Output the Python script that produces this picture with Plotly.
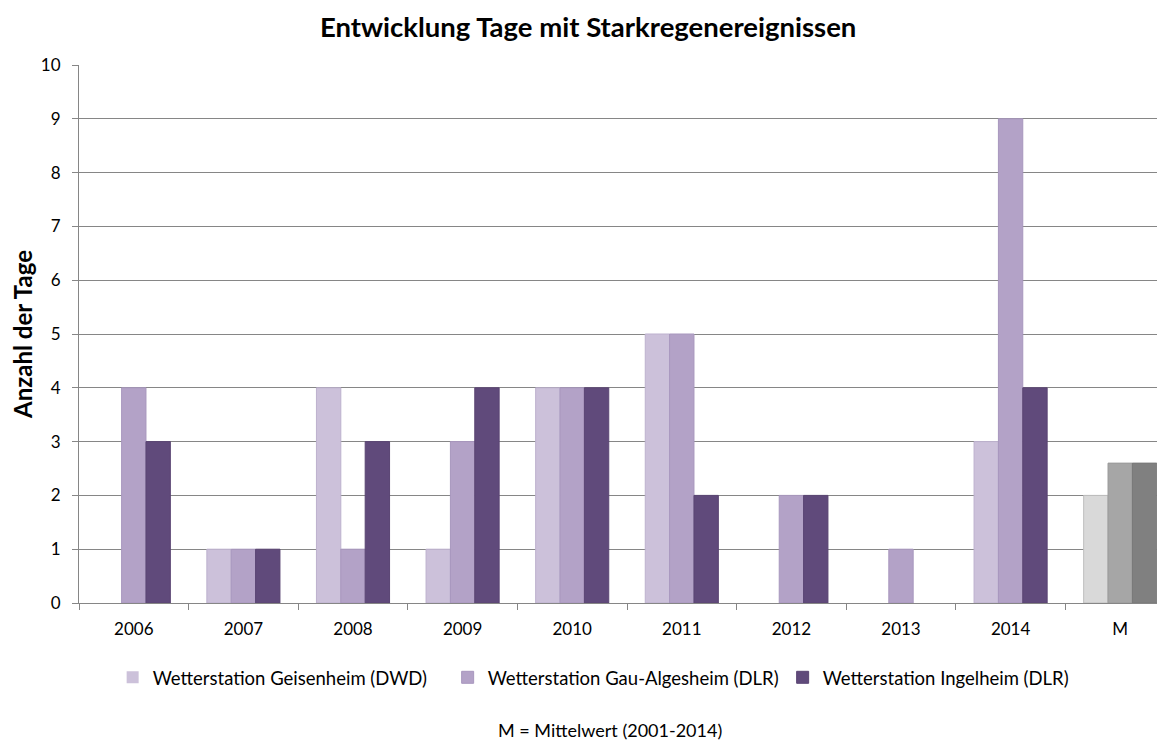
import plotly.graph_objects as go

categories = ["2006", "2007", "2008", "2009", "2010", "2011", "2012", "2013", "2014", "M"]
geisenheim = [0, 1, 4, 1, 4, 5, 0, 0, 3, 2.0]
gau_algesheim = [4, 1, 1, 3, 4, 5, 2, 1, 9, 2.6]
ingelheim = [3, 1, 3, 4, 4, 2, 2, 0, 4, 2.6]

series = [
    ("Wetterstation Geisenheim (DWD)", geisenheim, "#CCC1DA", "#D9D9D9", "#BDB1CE", "#BFBFBF"),
    ("Wetterstation Gau-Algesheim (DLR)", gau_algesheim, "#B3A2C7", "#A6A6A6", "#A897BE", "#9A9A9A"),
    ("Wetterstation Ingelheim (DLR)", ingelheim, "#604A7B", "#808080", "#5A4573", "#787878"),
]

fig = go.Figure()
for name, vals, col, mean_col, edge, mean_edge in series:
    # last column (M = mean) is drawn in grey
    n = len(categories) - 1
    fig.add_trace(go.Bar(
        x=categories, y=vals, name=name,
        marker=dict(color=[col] * n + [mean_col],
                    line=dict(color=[edge] * n + [mean_edge],
                              width=[1 if v > 0 else 0 for v in vals])),
    ))

fig.add_annotation(
    text="M = Mittelwert (2001-2014)", xref="paper", yref="paper",
    x=0.4845, y=-0.236, showarrow=False, xanchor="center", yanchor="middle",
    font=dict(size=18, color="#000000"),
)

# plot area runs slightly past the right edge of the window, like the original
fig.update_layout(
    width=1172, height=732,
    font=dict(family="Lato, Open Sans, sans-serif", size=17, color="#000000"),
    title=dict(text="<b>Entwicklung Tage mit Starkregenereignissen</b>",
               x=0.495, xanchor="center", y=0.974, yanchor="middle",
               font=dict(size=27.5)),
    barmode="group", bargap=0.333, bargroupgap=0,
    plot_bgcolor="white", paper_bgcolor="white",
    margin=dict(l=71, r=5, t=57, b=137),
    legend=dict(orientation="h", x=0.0307, xanchor="left", y=-0.139, yanchor="middle",
                font=dict(size=18.5), itemwidth=30, entrywidth=290),
    xaxis=dict(type="category", tickson="boundaries", ticks="outside", ticklen=6,
               tickcolor="#868686", showline=True, linecolor="#868686",
               showgrid=False, tickfont=dict(size=17), ticklabelstandoff=11,
               automargin=False),
    yaxis=dict(range=[0, 10], dtick=1, showgrid=True, gridcolor="#868686",
               showline=True, linecolor="#868686", ticks="outside", ticklen=6,
               tickcolor="#868686", zeroline=False, tickfont=dict(size=17),
               ticklabelstandoff=8, automargin=False,
               title=dict(text="<b>Anzahl der Tage</b>", font=dict(size=24), standoff=13)),
)

fig.write_html("out.html")
